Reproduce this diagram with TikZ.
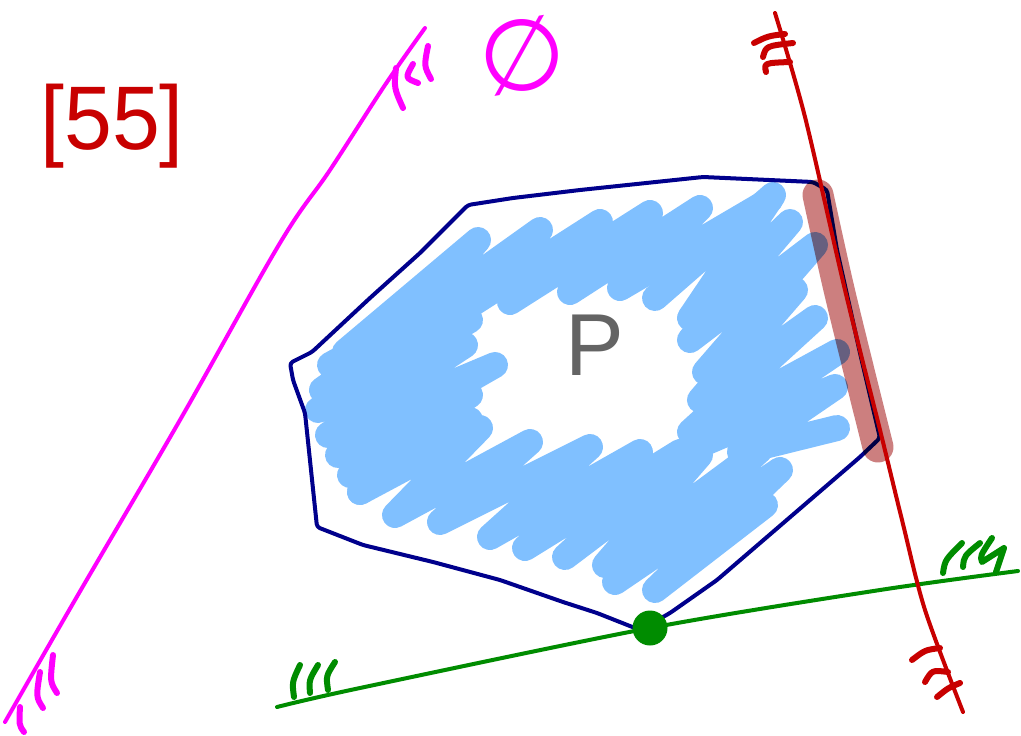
\documentclass[tikz,border=0pt]{standalone}
\usepackage{fontspec}
\setmainfont{Liberation Sans}
\newfontfamily\symfont{DejaVu Sans}
\definecolor{navy}{RGB}{0,0,140}
\definecolor{scrib}{RGB}{128,192,255}
\definecolor{penred}{RGB}{200,0,0}
\definecolor{pengreen}{RGB}{0,140,0}
\definecolor{penmag}{RGB}{255,0,255}
\definecolor{hilite}{RGB}{204,127,127}
\definecolor{pgray}{RGB}{100,100,100}
\begin{document}
\begin{tikzpicture}[x=1pt,y=-1pt,line cap=round,line join=round,
  scribble/.style={draw=scrib,line width=26pt},
  polyline/.style={draw=navy,line width=4pt},
  redpen/.style={draw=penred,line width=4pt},
  redhatch/.style={draw=penred,line width=6pt},
  greenpen/.style={draw=pengreen,line width=4pt},
  greenhatch/.style={draw=pengreen,line width=6pt},
  magpen/.style={draw=penmag,line width=4pt},
  maghatch/.style={draw=penmag,line width=6pt},
  hl/.style={draw=hilite,line width=31pt}]
\useasboundingbox (0,0) rectangle (1021,736);
\fill[white] (0,0) rectangle (1021,736);

% blue scribble fill (ring)
\draw[scribble] (345,352) -- (478,240) -- (400,330) -- (540,230) -- (450,318) -- (600,222) -- (510,302) -- (650,213) -- (570,292) -- (700,208) -- (620,288) -- (770,200);
\draw[scribble] (330,365) -- (450,300) -- (322,390) -- (470,320) -- (318,410) -- (465,345) -- (328,435) -- (495,365) -- (338,455) -- (470,395) -- (350,475) -- (470,420) -- (360,492);
\draw[scribble] (360,492) -- (480,428) -- (395,515) -- (530,442) -- (440,522) -- (590,447) -- (490,537) -- (640,452) -- (525,548) -- (680,452) -- (565,557) -- (700,455) -- (605,565) -- (760,450) -- (615,582) -- (780,470) -- (655,590) -- (765,505);
\draw[scribble] (655,298) -- (773,195) -- (690,318) -- (790,222) -- (690,340) -- (815,245) -- (705,372) -- (795,290) -- (700,400) -- (815,318) -- (690,432) -- (837,352) -- (700,445) -- (835,387) -- (740,452) -- (837,428);

% polygon P
\draw[polyline,rounded corners=3pt] (468,205) -- (420,253) -- (370,298) -- (312,352) -- (290,363) -- (293,380) -- (305,413) -- (317,527) -- (363,545) -- (433,562) -- (500,580) -- (563,602) -- (597,613) -- (640,630) -- (670,613) -- (717,580) -- (767,537) -- (860,457) -- (880,438) -- (860,353) -- (837,250) -- (827,190) -- (813,182) -- (703,177) -- (580,190) -- (513,198) -- cycle;
\node[text=pgray,font=\fontsize{88}{88}\selectfont] (plabel) at (595,345) {P};

% magenta line with hatches and empty set
\draw[magpen] plot[smooth,tension=0.6] coordinates {(425,28) (385,85) (330,170) (280,243) (180,420) (75,600) (5,722)};
\draw[maghatch] (396,68) .. controls (394,88) .. (403,108);
\draw[maghatch] (413,64) .. controls (405,78) .. (418,83);
\draw[maghatch] (428,46) .. controls (424,66) .. (431,79);
\draw[maghatch] (53,655) .. controls (50,682) .. (57,693);
\draw[maghatch] (40,672) .. controls (36,697) .. (43,708);
\draw[maghatch] (20,707) .. controls (19,725) .. (24,732);
\node[text=penmag,font=\symfont\fontsize{100}{100}\selectfont,inner sep=0pt,rotate=10] (empty) at (522,55) {∅};

% green line with hatches
\draw[greenpen] plot[smooth,tension=0.5] coordinates {(277,707) (360,688) (650,628) (880,590) (1018,571)};
\draw[greenhatch] (300,665) .. controls (292,682) .. (294,697);
\draw[greenhatch] (318,665) .. controls (309,680) .. (310,693);
\draw[greenhatch] (335,662) .. controls (326,676) .. (328,690);
\draw[greenhatch] (962,543) .. controls (945,560) .. (943,573);
\draw[greenhatch] (980,543) .. controls (964,556) .. (963,567);
\draw[greenhatch] (992,538) .. controls (980,556) .. (982,562) -- (1004,548) -- (996,572);
\node[circle,fill=pengreen,inner sep=0pt,minimum size=35pt] (dot) at (650,628) {};

% highlighted edge
\begin{scope}[blend mode=multiply]
\draw[hl] plot[smooth] coordinates {(818,195) (838,285) (860,375) (878,447)};
\end{scope}

% red line with hatches
\draw[redpen] plot[smooth,tension=0.5] coordinates {(775,13) (805,117) (845,290) (880,430) (902,520) (925,610) (963,712)};
\draw[redhatch] (754,43) .. controls (768,36) .. (785,34);
\draw[redhatch] (763,57) .. controls (766,46) .. (793,43);
\draw[redhatch] (766,72) .. controls (764,63) .. (790,62);
\draw[redhatch] (912,660) .. controls (925,650) .. (940,648);
\draw[redhatch] (925,682) .. controls (932,670) .. (948,672);
\draw[redhatch] (937,697) .. controls (948,688) .. (960,683);
\node[text=penred,font=\fontsize{86}{86}\selectfont,yscale=1.05] (label) at (112,126) {[55]};
\end{tikzpicture}
\end{document}
